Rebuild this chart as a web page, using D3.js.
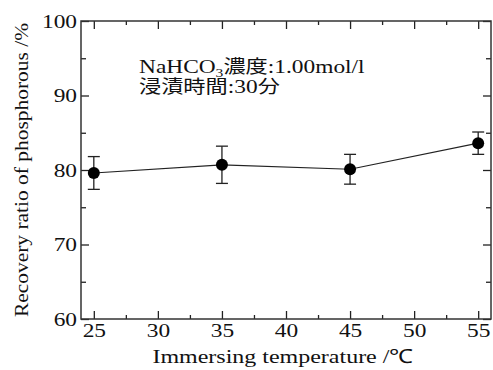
<!DOCTYPE html>
<html>
<head>
<meta charset="utf-8">
<script src="https://cdn.jsdelivr.net/npm/d3@7"></script>
<style>
  body { margin: 0; background: #fff; }
  svg, text, tspan { font-family: "Liberation Serif", "Times New Roman", serif; }
</style>
</head>
<body>
<div id="graph"></div>
<script>
const w = 493;
const h = 370;

// data
const temps = [25, 35, 45, 55];
const recovery = [79.6, 80.7, 80.1, 83.6];
const errors = [2.2, 2.5, 2.0, 1.5];
const xTicks = [25, 30, 35, 40, 45, 50, 55];
const yTicks = [60, 70, 80, 90, 100];

const margin = { left: 81, right: 2, top: 21, bottom: 51 };
const serif = "'Liberation Serif', 'Times New Roman', serif";
const cjk = "'Noto Sans CJK JP', sans-serif";
const sx = 1.2; // the original figure is stretched sideways

const x = d3.scaleLinear().domain([24, 56]).range([margin.left, w - margin.right]);
const y = d3.scaleLinear().domain([60, 100]).range([h - margin.bottom, margin.top]);

const svg = d3.select("#graph")
    .append("svg")
    .attr("width", w)
    .attr("height", h)
    .style("font-family", serif);

const xMinor = d3.range(27.5, 56, 5);
const yMinor = d3.range(65, 100, 10);

// bottom / top, ticks pointing in
const gx = svg.append("g")
    .attr("transform", "translate(0," + y(60) + ")")
    .call(d3.axisBottom(x).tickValues(xTicks).tickSize(-8).tickPadding(6).tickFormat(d3.format("d")));
svg.append("g")
    .attr("transform", "translate(0," + y(60) + ")")
    .call(d3.axisBottom(x).tickValues(xMinor).tickSize(-4).tickFormat(""));
svg.append("g")
    .attr("transform", "translate(0," + y(100) + ")")
    .call(d3.axisTop(x).tickValues(xTicks).tickSize(-8).tickFormat(""));
svg.append("g")
    .attr("transform", "translate(0," + y(100) + ")")
    .call(d3.axisTop(x).tickValues(xMinor).tickSize(-4).tickFormat(""));

// left / right
const gy = svg.append("g")
    .attr("transform", "translate(" + x(24) + ",0)")
    .call(d3.axisLeft(y).tickValues(yTicks).tickSize(-8).tickPadding(4).tickFormat(d3.format("d")));
svg.append("g")
    .attr("transform", "translate(" + x(24) + ",0)")
    .call(d3.axisLeft(y).tickValues(yMinor).tickSize(-5).tickFormat(""));
svg.append("g")
    .attr("transform", "translate(" + x(56) + ",0)")
    .call(d3.axisRight(y).tickValues(yTicks).tickSize(-8).tickFormat(""));
svg.append("g")
    .attr("transform", "translate(" + x(56) + ",0)")
    .call(d3.axisRight(y).tickValues(yMinor).tickSize(-5).tickFormat(""));

svg.selectAll("g").attr("font-family", null);
svg.selectAll(".domain").remove();
svg.selectAll(".tick line").attr("stroke", "#222").attr("stroke-width", 1.3);

gx.selectAll(".tick text")
    .style("font-family", serif)
    .style("font-size", "19.5px")
    .attr("fill", "#111")
    .attr("y", 4)
    .attr("transform", "scale(" + sx + ",1)");

gy.selectAll(".tick text")
    .style("font-family", serif)
    .style("font-size", "19.5px")
    .attr("fill", "#111")
    .attr("x", -4 / sx)
    .attr("transform", "scale(" + sx + ",1)");

// frame
svg.append("rect")
    .attr("x", x(24))
    .attr("y", y(100))
    .attr("width", x(56) - x(24))
    .attr("height", y(60) - y(100))
    .attr("fill", "none")
    .attr("stroke", "#333")
    .attr("stroke-width", 1.5);

const pts = temps.map((t, i) => ({ t: t, v: recovery[i], e: errors[i] }));

// line
svg.append("path")
    .datum(pts)
    .attr("fill", "none")
    .attr("stroke", "#222")
    .attr("stroke-width", 1.2)
    .attr("d", d3.line().x(d => x(d.t)).y(d => y(d.v)));

// error bars
const eb = svg.append("g").attr("stroke", "#222").attr("stroke-width", 1.3);
eb.selectAll(".v").data(pts).enter().append("line")
    .attr("x1", d => x(d.t)).attr("x2", d => x(d.t))
    .attr("y1", d => y(d.v + d.e)).attr("y2", d => y(d.v - d.e));
eb.selectAll(".top").data(pts).enter().append("line")
    .attr("x1", d => x(d.t) - 6).attr("x2", d => x(d.t) + 6)
    .attr("y1", d => y(d.v + d.e)).attr("y2", d => y(d.v + d.e));
eb.selectAll(".bot").data(pts).enter().append("line")
    .attr("x1", d => x(d.t) - 6).attr("x2", d => x(d.t) + 6)
    .attr("y1", d => y(d.v - d.e)).attr("y2", d => y(d.v - d.e));

svg.selectAll("circle")
    .data(pts)
    .enter()
    .append("circle")
    .attr("cx", d => x(d.t))
    .attr("cy", d => y(d.v))
    .attr("r", 6)
    .attr("fill", "#000");

// annotation
const ann = svg.append("text")
    .attr("transform", "translate(139,73) scale(" + sx + ",1)")
    .style("font-family", serif)
    .style("font-size", "19.5px")
    .attr("fill", "#111");
ann.append("tspan").text("NaHCO");
ann.append("tspan").attr("dy", 4).style("font-size", "13px").text("3");
ann.append("tspan").attr("dy", -4).style("font-family", cjk).style("font-size", "18.5px").text("濃度");
ann.append("tspan").text(":1.00mol/l");

const ann2 = svg.append("text")
    .attr("transform", "translate(139,93) scale(" + sx + ",1)")
    .style("font-family", serif)
    .style("font-size", "19.5px")
    .attr("fill", "#111");
ann2.append("tspan").style("font-family", cjk).style("font-size", "18.5px").text("浸漬時間");
ann2.append("tspan").text(":30");
ann2.append("tspan").style("font-family", cjk).style("font-size", "18.5px").text("分");

// axis titles
svg.append("text")
    .attr("text-anchor", "middle")
    .attr("transform", "translate(283,363) scale(1.23,1)")
    .style("font-family", serif)
    .style("font-size", "19.5px")
    .attr("fill", "#111")
    .text("Immersing temperature /℃");

svg.append("text")
    .attr("text-anchor", "middle")
    .attr("transform", "translate(28,170) rotate(-90) scale(1.1,1)")
    .style("font-family", serif)
    .style("font-size", "19.5px")
    .attr("fill", "#111")
    .text("Recovery ratio of phosphorous /%");
</script>
</body>
</html>
